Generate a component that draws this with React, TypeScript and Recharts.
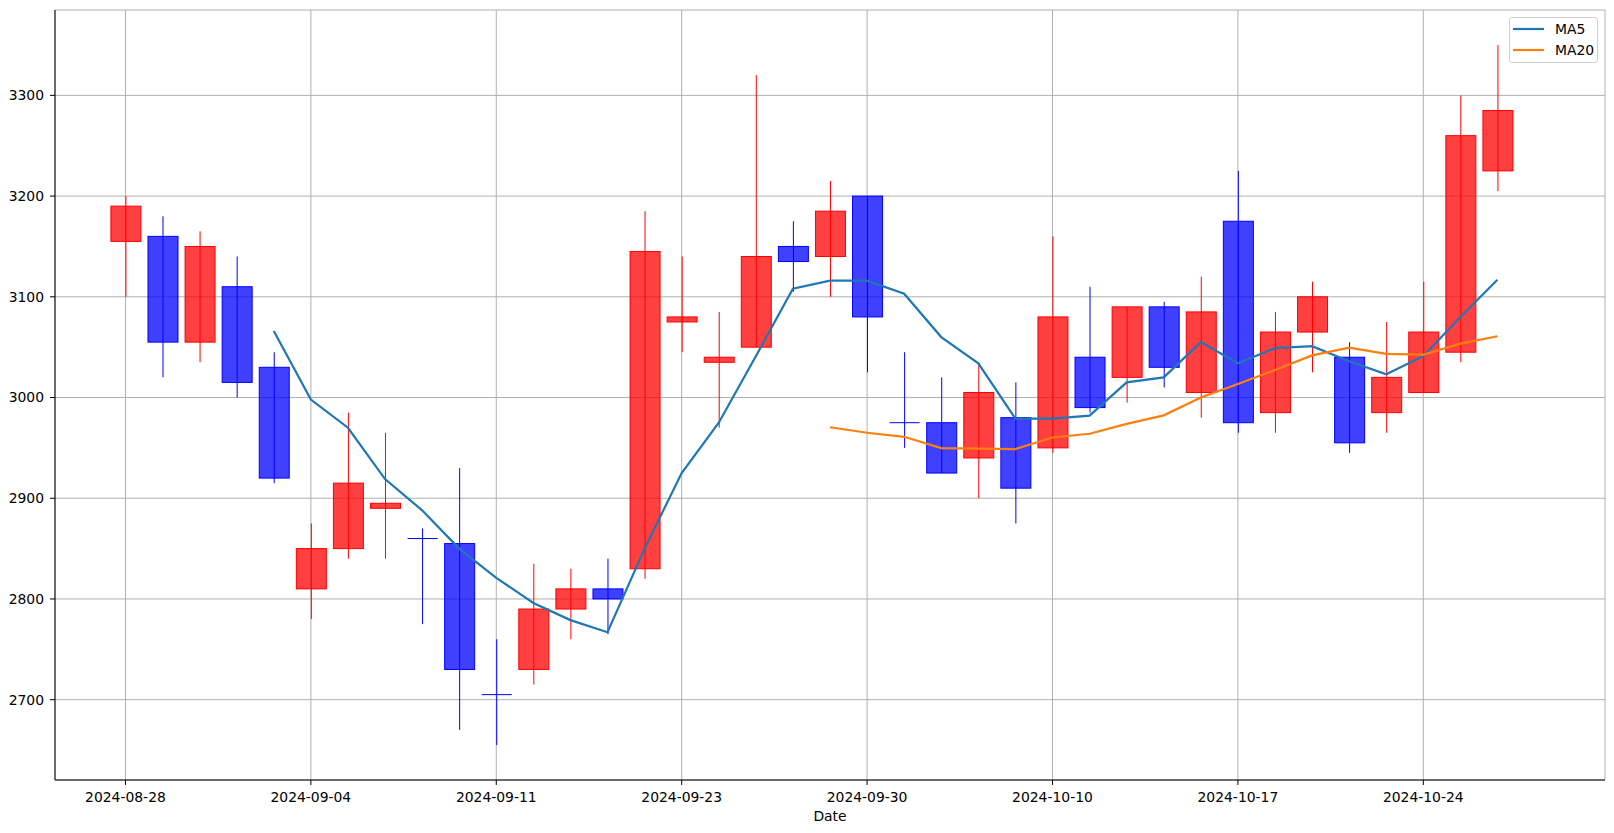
import React from 'react';
import { ComposedChart, Bar, Line, XAxis, YAxis, CartesianGrid, Legend } from 'recharts';

// trading days, one per candle
const dates = [
  '2024-08-28', '2024-08-29', '2024-08-30', '2024-09-02', '2024-09-03',
  '2024-09-04', '2024-09-05', '2024-09-06', '2024-09-09', '2024-09-10',
  '2024-09-11', '2024-09-12', '2024-09-13', '2024-09-19', '2024-09-20',
  '2024-09-23', '2024-09-24', '2024-09-25', '2024-09-26', '2024-09-27',
  '2024-09-30', '2024-10-02', '2024-10-04', '2024-10-08', '2024-10-09',
  '2024-10-10', '2024-10-11', '2024-10-14', '2024-10-15', '2024-10-16',
  '2024-10-17', '2024-10-18', '2024-10-21', '2024-10-22', '2024-10-23',
  '2024-10-24', '2024-10-25', '2024-10-28',
];

const opens = [
  3155, 3160, 3055, 3110, 3030, 2810, 2850, 2890, 2860, 2855,
  2705, 2730, 2790, 2810, 2830, 3075, 3035, 3050, 3150, 3140,
  3200, 2975, 2975, 2940, 2980, 2950, 3040, 3020, 3090, 3005,
  3175, 2985, 3065, 3040, 2985, 3005, 3045, 3225,
];
const highs = [
  3200, 3180, 3165, 3140, 3045, 2875, 2985, 2965, 2870, 2930,
  2760, 2835, 2830, 2840, 3185, 3140, 3085, 3320, 3175, 3215,
  3200, 3045, 3020, 3035, 3015, 3160, 3110, 3090, 3095, 3120,
  3225, 3085, 3115, 3055, 3075, 3115, 3300, 3350,
];
const lows = [
  3100, 3020, 3035, 3000, 2915, 2780, 2840, 2840, 2775, 2670,
  2655, 2715, 2760, 2765, 2820, 3045, 2970, 3050, 3105, 3100,
  3025, 2950, 2925, 2900, 2875, 2945, 2985, 2995, 3010, 2980,
  2965, 2965, 3025, 2945, 2965, 3005, 3035, 3205,
];
const closes = [
  3190, 3055, 3150, 3015, 2920, 2850, 2915, 2895, 2860, 2730,
  2705, 2790, 2810, 2800, 3145, 3080, 3040, 3140, 3135, 3185,
  3080, 2975, 2925, 3005, 2910, 3080, 2990, 3090, 3030, 3085,
  2975, 3065, 3100, 2955, 3020, 3065, 3260, 3285,
];

const ma5 = [
  null, null, null, null, 3066, 2998, 2970, 2919, 2888, 2850,
  2821, 2796, 2779, 2767, 2850, 2925, 2975, 3041, 3108, 3116,
  3116, 3103, 3060, 3034, 2979, 2979, 2982, 3015, 3020, 3055,
  3034, 3049, 3051, 3036, 3023, 3041, 3080, 3117,
];
const ma20 = [
  null, null, null, null, null, null, null, null, null, null,
  null, null, null, null, null, null, null, null, null, 2970.5,
  2965, 2961, 2949.8, 2949.3, 2948.8, 2960.3, 2964, 2973.8, 2982.3, 3000,
  3013.5, 3027.3, 3041.8, 3049.5, 3043.3, 3042.5, 3053.5, 3060.8,
];

const xTicks = [0, 5, 10, 15, 20, 25, 30, 35];
const yTicks = [2700, 2800, 2900, 3000, 3100, 3200, 3300];
const legendOrder = ['MA5', 'MA20'];

const data = dates.map((d, i) => ({
  idx: i,
  date: d,
  open: opens[i],
  high: highs[i],
  low: lows[i],
  close: closes[i],
  range: [lows[i], highs[i]],
  ma5: ma5[i],
  ma20: ma20[i],
}));

const FONT = 'DejaVu Sans';
const tickStyle = { fill: '#000', fontSize: 13.9, fontFamily: FONT };

const Candle = (props: any) => {
  const { x, y, width, height, payload } = props;
  if (!payload || height == null) return null;
  const k = height / (payload.high - payload.low);
  const yO = y + (payload.high - payload.open) * k;
  const yC = y + (payload.high - payload.close) * k;
  const top = Math.min(yO, yC);
  const bot = Math.max(yO, yC);
  const up = payload.close > payload.open;
  const edge = up ? '#ff0000' : '#0000ff';
  const fill = up ? 'rgba(255,0,0,0.75)' : 'rgba(0,0,255,0.75)';
  const cx = x + width / 2;
  return (
    <g>
      <line x1={cx} x2={cx} y1={y} y2={y + height} stroke={edge} strokeWidth={1} />
      {bot - top < 1 ? (
        <line x1={x} x2={x + width} y1={top} y2={top} stroke={edge} strokeWidth={1} />
      ) : (
        <rect x={x} y={top} width={width} height={bot - top} fill={fill} stroke={edge} strokeWidth={1} />
      )}
    </g>
  );
};

const renderLegend = (props: any) => {
  const items = (props.payload || [])
    .filter((p: any) => legendOrder.includes(p.value))
    .sort((a: any, b: any) => legendOrder.indexOf(a.value) - legendOrder.indexOf(b.value));
  return (
    <div
      style={{
        position: 'relative',
        width: 89,
        height: 46,
        boxSizing: 'border-box',
        border: '1px solid #d0d0d0',
        borderRadius: 3,
        background: 'rgba(255,255,255,0.8)',
        fontFamily: FONT,
        fontSize: 13.9,
        color: '#000',
      }}
    >
      {items.map((it: any, i: number) => (
        <div
          key={it.value}
          style={{
            position: 'absolute',
            left: 3,
            top: 1 + i * 21,
            height: 20,
            display: 'flex',
            alignItems: 'center',
            whiteSpace: 'nowrap',
          }}
        >
          <svg width={31} height={4} style={{ display: 'block' }}>
            <line x1={0} x2={31} y1={2} y2={2} stroke={it.color} strokeWidth={2.2} />
          </svg>
          <span style={{ marginLeft: 11 }}>{it.value}</span>
        </div>
      ))}
    </div>
  );
};

export default function App() {
  return (
    <div style={{ position: 'absolute', left: 0, top: 0, background: '#fff' }}>
      <ComposedChart
        width={1614}
        height={833}
        data={data}
        margin={{ top: 10, right: 9, bottom: 0, left: 0 }}
      >
        <CartesianGrid stroke="#b0b0b0" strokeWidth={1} />
        <XAxis
          dataKey="idx"
          type="number"
          domain={[-1.9, 39.9]}
          ticks={xTicks}
          interval={0}
          tickFormatter={(v: number) => dates[v]}
          height={53}
          tick={tickStyle}
          tickSize={5}
          tickMargin={7}
          tickLine={{ stroke: '#000' }}
          axisLine={{ stroke: '#000' }}
          label={{ value: 'Date', position: 'insideBottom', offset: 12, fill: '#000', fontSize: 13.9, fontFamily: FONT }}
        />
        <XAxis
          xAxisId="top"
          orientation="top"
          type="number"
          domain={[-1.9, 39.9]}
          height={0}
          tick={false}
          tickLine={false}
          axisLine={{ stroke: '#000' }}
        />
        <YAxis
          type="number"
          domain={[2620.25, 3384.75]}
          ticks={yTicks}
          interval={0}
          width={55}
          tick={tickStyle}
          tickSize={5}
          tickMargin={6}
          tickLine={{ stroke: '#000' }}
          axisLine={{ stroke: '#000' }}
        />
        <YAxis
          yAxisId="right"
          orientation="right"
          type="number"
          domain={[2620.25, 3384.75]}
          width={0}
          tick={false}
          tickLine={false}
          axisLine={{ stroke: '#000' }}
        />
        <Legend
          content={renderLegend}
          wrapperStyle={{ left: 1509, top: 17, width: 0, height: 0 }}
        />
        <Bar dataKey="range" barSize={30} shape={Candle} legendType="none" isAnimationActive={false} />
        <Line type="linear" dataKey="ma5" name="MA5" stroke="#1f77b4" strokeWidth={2.2} dot={false} activeDot={false} connectNulls={false} isAnimationActive={false} />
        <Line type="linear" dataKey="ma20" name="MA20" stroke="#ff7f0e" strokeWidth={2.2} dot={false} activeDot={false} connectNulls={false} isAnimationActive={false} />
      </ComposedChart>
    </div>
  );
}
